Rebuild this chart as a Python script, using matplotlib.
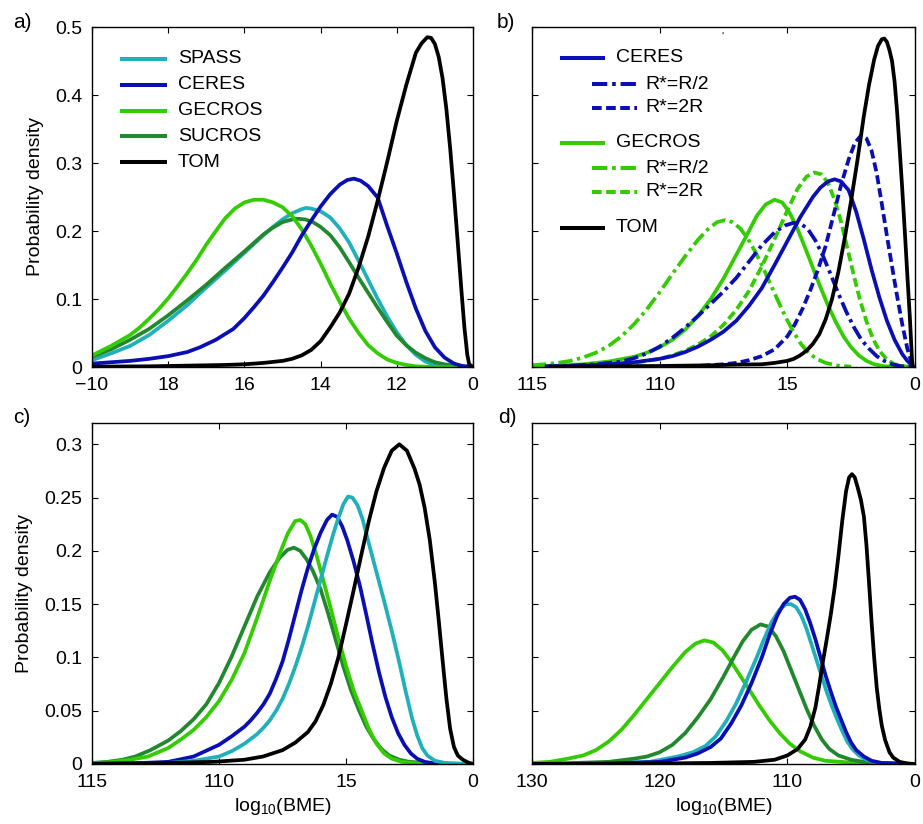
import matplotlib
matplotlib.use("Agg")
import matplotlib.pyplot as plt

plt.rcParams['font.family'] = ['Liberation Sans', 'DejaVu Sans']
plt.rcParams['mathtext.default'] = 'regular'

# ---------------- colours ----------------
C_SPASS = '#1FB0BA'
C_CERES = '#0A0FB4'
C_GECROS = '#33CC00'
C_SUCROS = '#22882E'
C_TOM = '#000000'

# ---------------- panel a (x: -20..0) ----------------
a_xticks = [-20, -16, -12, -8, -4, 0]
a_xticklabels = ['\u221210', '18', '16', '14', '12', '0']
a_yticks = [0, 0.1, 0.2, 0.3, 0.4, 0.5]
a_yticklabels = ['0', '0.1', '0.2', '0.3', '0.4', '0.5']

tom_a_x = [-20, -17, -15, -13, -12, -11, -10, -9.5, -9, -8.5, -8, -7.5, -7, -6.5, -6, -5.5, -5, -4.5, -4, -3.5, -3, -2.7, -2.4, -2.2, -2.0, -1.8, -1.6, -1.4, -1.2, -1.0, -0.8, -0.6, -0.45, -0.3, -0.2, 0]
tom_a_y = [0.0005, 0.001, 0.002, 0.003, 0.004, 0.006, 0.009, 0.012, 0.017, 0.025, 0.038, 0.058, 0.080, 0.108, 0.147, 0.192, 0.245, 0.302, 0.362, 0.415, 0.462, 0.476, 0.485, 0.484, 0.475, 0.456, 0.425, 0.380, 0.322, 0.255, 0.183, 0.110, 0.058, 0.018, 0.004, 0]
ceres_a_x = [-20, -19, -18, -17, -16, -15, -14.33, -13.5, -12.58, -12, -11.5, -11, -10.5, -10, -9.5, -9, -8.5, -8, -7.5, -7, -6.6, -6.25, -5.9, -5.5, -5, -4.5, -4, -3.5, -3, -2.5, -2, -1.5, -1, -0.5, 0]
ceres_a_y = [0.005, 0.007, 0.009, 0.012, 0.016, 0.022, 0.029, 0.040, 0.056, 0.072, 0.088, 0.105, 0.125, 0.146, 0.168, 0.193, 0.215, 0.236, 0.254, 0.268, 0.275, 0.277, 0.274, 0.266, 0.249, 0.207, 0.167, 0.125, 0.086, 0.053, 0.029, 0.014, 0.005, 0.001, 0]
gecros_a_x = [-20, -19.5, -19, -18.5, -18, -17.5, -17, -16.5, -16, -15.5, -15, -14.5, -14, -13.5, -13, -12.5, -12, -11.5, -11, -10.5, -10, -9.5, -9, -8.5, -8, -7.5, -7, -6.5, -6, -5.5, -5, -4.5, -4, -3.5, -3, -2, 0]
gecros_a_y = [0.017, 0.024, 0.031, 0.039, 0.047, 0.058, 0.071, 0.085, 0.101, 0.119, 0.138, 0.158, 0.180, 0.200, 0.219, 0.233, 0.242, 0.246, 0.246, 0.242, 0.235, 0.222, 0.203, 0.179, 0.152, 0.123, 0.096, 0.071, 0.050, 0.032, 0.020, 0.011, 0.006, 0.003, 0.001, 0.0, 0]
spass_a_x = [-20, -19, -18, -17, -16, -15, -14, -13, -12, -11, -10.5, -10, -9.5, -9, -8.77, -8.5, -8, -7.5, -7, -6.5, -6, -5.5, -5, -4.5, -4, -3.5, -3, -2.5, -2, -1.5, 0]
spass_a_y = [0.010, 0.020, 0.031, 0.047, 0.068, 0.091, 0.117, 0.142, 0.168, 0.194, 0.206, 0.217, 0.226, 0.232, 0.234, 0.233, 0.229, 0.220, 0.204, 0.183, 0.156, 0.128, 0.100, 0.074, 0.051, 0.032, 0.018, 0.008, 0.003, 0.001, 0]
sucros_a_x = [-20, -19, -18, -17, -16, -15, -14, -13, -12, -11, -10.5, -10, -9.5, -9.2, -8.8, -8.4, -8, -7.5, -7, -6.5, -6, -5.5, -5, -4.5, -4, -3.5, -3, -2.5, -2, -1.5, -1, 0]
sucros_a_y = [0.015, 0.026, 0.040, 0.056, 0.076, 0.098, 0.121, 0.146, 0.170, 0.195, 0.205, 0.213, 0.217, 0.218, 0.217, 0.213, 0.206, 0.194, 0.176, 0.154, 0.131, 0.109, 0.087, 0.066, 0.046, 0.032, 0.021, 0.013, 0.007, 0.004, 0.002, 0.0005]

# ---------------- panel b (x: -15..0) ----------------
b_xticks = [-15, -10, -5, 0]
b_xticklabels = ['115', '110', '15', '0']

tom_b_x = [-14.35, -12, -10, -8, -7, -6, -5.5, -5, -4.75, -4.5, -4.25, -4.0, -3.75, -3.5, -3.25, -3.0, -2.75, -2.5, -2.25, -2.0, -1.8, -1.6, -1.45, -1.3, -1.2, -1.1, -1.0, -0.9, -0.8, -0.7, -0.6, -0.5, -0.4, -0.3, -0.2, -0.13, -0.1]
tom_b_y = [0.0005, 0.001, 0.0015, 0.0025, 0.0035, 0.004, 0.006, 0.009, 0.012, 0.017, 0.024, 0.034, 0.048, 0.070, 0.100, 0.140, 0.190, 0.245, 0.305, 0.370, 0.415, 0.452, 0.472, 0.482, 0.483, 0.478, 0.466, 0.450, 0.420, 0.375, 0.320, 0.262, 0.200, 0.135, 0.072, 0.020, 0.0]
ceres_b_x = [-14, -13, -12, -11, -10, -9.5, -9, -8.5, -8, -7.5, -7, -6.5, -6, -5.5, -5, -4.5, -4, -3.7, -3.4, -3.15, -2.9, -2.6, -2.3, -2.0, -1.7, -1.4, -1.1, -0.8, -0.5, -0.3, -0.1, 0]
ceres_b_y = [0.001, 0.002, 0.004, 0.007, 0.012, 0.016, 0.022, 0.030, 0.040, 0.052, 0.068, 0.090, 0.116, 0.150, 0.185, 0.220, 0.250, 0.264, 0.273, 0.276, 0.273, 0.260, 0.228, 0.187, 0.143, 0.103, 0.068, 0.040, 0.019, 0.009, 0.002, 0]
ceres_half_b_x = [-14.5, -13.5, -12.5, -11.5, -11, -10.5, -10, -9.5, -9, -8.5, -8, -7.5, -7, -6.5, -6, -5.5, -5.1, -4.76, -4.45, -4.2, -3.9, -3.6, -3.3, -3.0, -2.7, -2.4, -2.1, -1.8, -1.5, -1.2, -0.9, -0.5, 0]
ceres_half_b_y = [0.001, 0.002, 0.004, 0.008, 0.013, 0.020, 0.030, 0.043, 0.058, 0.075, 0.093, 0.111, 0.131, 0.155, 0.179, 0.198, 0.208, 0.212, 0.210, 0.203, 0.186, 0.163, 0.136, 0.108, 0.082, 0.059, 0.040, 0.027, 0.016, 0.009, 0.004, 0.001, 0]
ceres_double_b_x = [-13.5, -10, -8.5, -7.5, -7, -6.5, -6, -5.5, -5, -4.7, -4.4, -4.1, -3.8, -3.5, -3.2, -2.9, -2.6, -2.35, -2.1, -1.9, -1.7, -1.5, -1.3, -1.1, -0.9, -0.7, -0.5, -0.3, -0.15, 0]
ceres_double_b_y = [0.0, 0.0005, 0.0015, 0.004, 0.006, 0.010, 0.016, 0.026, 0.045, 0.063, 0.086, 0.113, 0.143, 0.178, 0.222, 0.267, 0.305, 0.330, 0.341, 0.336, 0.318, 0.285, 0.240, 0.193, 0.148, 0.104, 0.063, 0.027, 0.008, 0]
gecros_b_x = [-15, -14, -13, -12, -11, -10.5, -10, -9.5, -9, -8.5, -8, -7.5, -7, -6.6, -6.2, -5.85, -5.5, -5.2, -4.9, -4.6, -4.3, -4.0, -3.7, -3.4, -3.1, -2.8, -2.5, -2.2, -1.9, -1.6, -1.2, -0.5]
gecros_b_y = [0.001, 0.002, 0.004, 0.008, 0.015, 0.021, 0.029, 0.040, 0.055, 0.075, 0.100, 0.130, 0.165, 0.193, 0.222, 0.239, 0.246, 0.242, 0.226, 0.203, 0.175, 0.146, 0.117, 0.090, 0.066, 0.045, 0.029, 0.017, 0.009, 0.004, 0.001, 0.0]
gecros_half_b_x = [-15, -14.5, -14, -13.5, -13, -12.5, -12, -11.5, -11, -10.5, -10, -9.5, -9, -8.5, -8.1, -7.75, -7.44, -7.15, -6.85, -6.55, -6.25, -5.95, -5.65, -5.35, -5.05, -4.75, -4.45, -4.15, -3.85, -3.5, -3.0, -2.5]
gecros_half_b_y = [0.0025, 0.004, 0.006, 0.009, 0.014, 0.021, 0.031, 0.045, 0.063, 0.085, 0.110, 0.137, 0.163, 0.187, 0.203, 0.213, 0.216, 0.213, 0.204, 0.189, 0.169, 0.146, 0.121, 0.096, 0.072, 0.051, 0.033, 0.020, 0.012, 0.006, 0.002, 0.0005]
gecros_double_b_x = [-14, -13, -12, -11, -10, -9.5, -9, -8.5, -8, -7.5, -7, -6.5, -6, -5.5, -5.0, -4.6, -4.25, -3.94, -3.65, -3.4, -3.15, -2.9, -2.65, -2.4, -2.15, -1.9, -1.65, -1.4, -1.1, -0.8, -0.4, 0]
gecros_double_b_y = [0.001, 0.002, 0.003, 0.006, 0.012, 0.017, 0.024, 0.033, 0.045, 0.062, 0.084, 0.112, 0.148, 0.188, 0.230, 0.262, 0.280, 0.286, 0.283, 0.270, 0.246, 0.214, 0.175, 0.135, 0.098, 0.067, 0.042, 0.024, 0.011, 0.004, 0.001, 0]

# ---------------- panel c (x: -15..0) ----------------
c_xticks = [-15, -10, -5, 0]
c_xticklabels = ['115', '110', '15', '0']
c_yticks = [0, 0.05, 0.1, 0.15, 0.2, 0.25, 0.3]
c_yticklabels = ['0', '0.05', '0.1', '0.15', '0.2', '0.25', '0.3']

tom_c_x = [-15, -12, -10.24, -9, -8.27, -7.5, -7, -6.5, -6.2, -5.9, -5.6, -5.3, -5.0, -4.7, -4.4, -4.1, -3.8, -3.5, -3.2, -2.9, -2.6, -2.3, -2.1, -1.9, -1.7, -1.5, -1.35, -1.2, -1.05, -0.9, -0.75, -0.6, -0.4, -0.2, 0]
tom_c_y = [0.0002, 0.001, 0.002, 0.004, 0.007, 0.013, 0.020, 0.030, 0.040, 0.055, 0.075, 0.100, 0.131, 0.163, 0.196, 0.228, 0.256, 0.278, 0.294, 0.300, 0.294, 0.277, 0.262, 0.240, 0.210, 0.170, 0.135, 0.098, 0.062, 0.033, 0.016, 0.008, 0.004, 0.0015, 0.0]
spass_c_x = [-15, -12, -11, -10, -9.5, -9, -8.5, -8.25, -8.0, -7.75, -7.5, -7.25, -7.0, -6.75, -6.5, -6.25, -6.0, -5.75, -5.5, -5.3, -5.1, -4.92, -4.75, -4.55, -4.35, -4.1, -3.8, -3.5, -3.2, -2.9, -2.65, -2.4, -2.2, -2.0, -1.8, -1.5, -1.0, 0]
spass_c_y = [0.0, 0.001, 0.003, 0.007, 0.012, 0.019, 0.028, 0.034, 0.041, 0.050, 0.061, 0.075, 0.091, 0.109, 0.129, 0.151, 0.173, 0.195, 0.216, 0.231, 0.244, 0.251, 0.250, 0.243, 0.230, 0.207, 0.180, 0.153, 0.125, 0.095, 0.068, 0.043, 0.027, 0.015, 0.008, 0.003, 0.0005, 0]
ceres_c_x = [-15, -13, -12, -11, -10, -9.5, -9, -8.75, -8.5, -8.25, -8.0, -7.75, -7.5, -7.25, -7.0, -6.75, -6.5, -6.25, -6.0, -5.75, -5.55, -5.35, -5.15, -4.95, -4.7, -4.45, -4.2, -3.95, -3.7, -3.45, -3.2, -2.95, -2.7, -2.45, -2.2, -1.9, -1.5, 0]
ceres_c_y = [0.0, 0.001, 0.002, 0.007, 0.018, 0.026, 0.035, 0.041, 0.048, 0.056, 0.066, 0.080, 0.096, 0.117, 0.140, 0.163, 0.184, 0.202, 0.217, 0.229, 0.234, 0.232, 0.223, 0.210, 0.190, 0.167, 0.140, 0.112, 0.086, 0.063, 0.044, 0.029, 0.018, 0.010, 0.005, 0.002, 0.0005, 0]
gecros_c_x = [-15, -14.2, -13.5, -12.8, -12, -11.5, -11, -10.5, -10, -9.5, -9, -8.5, -8.0, -7.6, -7.3, -7.0, -6.8, -6.6, -6.4, -6.15, -5.9, -5.6, -5.3, -5.0, -4.7, -4.4, -4.1, -3.8, -3.5, -3.2, -2.8, -2.2, 0]
gecros_c_y = [0.0005, 0.002, 0.004, 0.007, 0.015, 0.023, 0.032, 0.044, 0.059, 0.079, 0.104, 0.137, 0.172, 0.198, 0.216, 0.228, 0.229, 0.225, 0.214, 0.195, 0.173, 0.146, 0.118, 0.092, 0.069, 0.051, 0.033, 0.019, 0.010, 0.005, 0.002, 0.0005, 0]
sucros_c_x = [-15, -14.4, -13.8, -13.3, -12.7, -12.0, -11.5, -11.0, -10.5, -10.0, -9.5, -9.0, -8.5, -8.0, -7.6, -7.3, -7.05, -6.8, -6.55, -6.3, -6.0, -5.7, -5.4, -5.1, -4.8, -4.5, -4.2, -3.9, -3.6, -3.3, -2.9, -2.5, -1.5, 0]
sucros_c_y = [0.001, 0.002, 0.004, 0.007, 0.013, 0.022, 0.031, 0.042, 0.056, 0.076, 0.101, 0.129, 0.157, 0.180, 0.194, 0.201, 0.203, 0.200, 0.192, 0.181, 0.164, 0.141, 0.116, 0.091, 0.069, 0.051, 0.035, 0.023, 0.014, 0.008, 0.004, 0.002, 0.0005, 0]

# ---------------- panel d (x: -15..0) ----------------
d_xticks = [-15, -10, -5, 0]
d_xticklabels = ['130', '120', '110', '0']

tom_d_x = [-15, -10, -8, -6.3, -5.5, -5.0, -4.6, -4.3, -4.1, -3.9, -3.75, -3.6, -3.45, -3.3, -3.15, -3.0, -2.85, -2.7, -2.58, -2.47, -2.36, -2.25, -2.12, -2.0, -1.9, -1.8, -1.7, -1.6, -1.5, -1.4, -1.3, -1.17, -1.0, -0.85, -0.6, -0.3, 0]
tom_d_y = [0.0, 0.0005, 0.001, 0.002, 0.004, 0.008, 0.014, 0.023, 0.035, 0.053, 0.074, 0.097, 0.118, 0.140, 0.165, 0.195, 0.228, 0.256, 0.269, 0.272, 0.269, 0.260, 0.248, 0.232, 0.205, 0.170, 0.133, 0.100, 0.072, 0.052, 0.036, 0.0225, 0.011, 0.006, 0.002, 0.0005, 0]
ceres_d_x = [-15, -12, -10, -9, -8.5, -8, -7.6, -7.2, -6.8, -6.4, -6.0, -5.7, -5.4, -5.15, -4.9, -4.7, -4.5, -4.3, -4.1, -3.9, -3.7, -3.5, -3.3, -3.1, -2.9, -2.7, -2.5, -2.3, -2.0, -1.7, -1.3, 0]
ceres_d_y = [0.0, 0.0005, 0.002, 0.006, 0.010, 0.016, 0.024, 0.038, 0.055, 0.076, 0.100, 0.121, 0.139, 0.150, 0.156, 0.157, 0.154, 0.145, 0.132, 0.117, 0.100, 0.083, 0.068, 0.054, 0.042, 0.030, 0.020, 0.013, 0.007, 0.003, 0.001, 0]
spass_d_x = [-15, -12, -10.4, -9.3, -8.7, -8.2, -7.8, -7.4, -7.0, -6.6, -6.2, -5.9, -5.6, -5.3, -5.05, -4.85, -4.65, -4.45, -4.25, -4.05, -3.85, -3.65, -3.45, -3.25, -3.05, -2.85, -2.65, -2.45, -2.2, -1.9, -1.5, 0]
spass_d_y = [0.0, 0.0005, 0.002, 0.007, 0.011, 0.017, 0.026, 0.040, 0.057, 0.078, 0.100, 0.118, 0.134, 0.145, 0.150, 0.150, 0.147, 0.139, 0.127, 0.112, 0.097, 0.082, 0.067, 0.054, 0.042, 0.031, 0.021, 0.014, 0.008, 0.004, 0.001, 0]
sucros_d_x = [-15, -14, -12, -11, -10.5, -10, -9.5, -9.0, -8.5, -8.0, -7.5, -7.1, -6.75, -6.4, -6.05, -5.75, -5.45, -5.15, -4.85, -4.55, -4.25, -3.95, -3.65, -3.35, -3.0, -2.5, -2.0, -1.0, 0]
sucros_d_y = [0.0, 0.0005, 0.002, 0.005, 0.007, 0.011, 0.018, 0.029, 0.044, 0.061, 0.082, 0.100, 0.115, 0.126, 0.131, 0.129, 0.120, 0.106, 0.088, 0.070, 0.052, 0.036, 0.023, 0.014, 0.008, 0.004, 0.002, 0.0005, 0]
gecros_d_x = [-15, -14.3, -13.6, -13.0, -12.5, -12.0, -11.5, -11.0, -10.5, -10.0, -9.5, -9.0, -8.6, -8.25, -7.9, -7.55, -7.2, -6.85, -6.5, -6.1, -5.7, -5.3, -4.9, -4.5, -4.0, -3.5, -2.9, -2.0, 0]
gecros_d_y = [0.001, 0.002, 0.005, 0.008, 0.013, 0.021, 0.032, 0.046, 0.061, 0.076, 0.091, 0.105, 0.113, 0.116, 0.114, 0.107, 0.096, 0.083, 0.070, 0.055, 0.041, 0.029, 0.019, 0.012, 0.006, 0.003, 0.002, 0.0005, 0]

LW = 2.7
DASH = (2.4, 1.1)
DASHDOT = (3.8, 1.2, 0.9, 1.2)

W, H = 923, 824
fig = plt.figure(figsize=(W / 100, H / 100), dpi=100)


def make_ax(left, top, right, bottom):
    return fig.add_axes([left / W, 1 - bottom / H, (right - left) / W, (bottom - top) / H])


axa = make_ax(92, 27, 473, 367)
axb = make_ax(532, 27, 915, 367)
axc = make_ax(92, 423, 473, 764)
axd = make_ax(532, 423, 915, 764)


def style(ax, xlim, xticks, xlabels, ylim, yticks, ylabels):
    ax.set_xlim(*xlim)
    ax.set_ylim(*ylim)
    ax.set_xticks(xticks)
    ax.set_xticklabels(xlabels)
    ax.set_yticks(yticks)
    ax.set_yticklabels(ylabels)
    ax.tick_params(direction='in', top=True, right=True, length=4, width=0.8,
                   labelsize=14, pad=7)
    for s in ax.spines.values():
        s.set_linewidth(1.0)


def curve(ax, x, y, color, dashes=None):
    ln, = ax.plot(x, y, color=color, lw=LW, solid_joinstyle='round',
                  solid_capstyle='butt', clip_on=True)
    if dashes is not None:
        ln.set_dashes(dashes)
        ln.set_dash_capstyle('butt')
    return ln


def leg(ax, x0, x1, y, tx, label, color, dashes=None):
    ln, = ax.plot([x0, x1], [y, y], transform=ax.transAxes, color=color, lw=LW + 0.2,
                  solid_capstyle='butt', clip_on=False)
    if dashes is not None:
        ln.set_dashes(dashes)
        ln.set_dash_capstyle('butt')
    ax.text(tx, y, label, transform=ax.transAxes, va='center', ha='left', fontsize=14)


# ---- panel a ----
curve(axa, spass_a_x, spass_a_y, C_SPASS)
curve(axa, sucros_a_x, sucros_a_y, C_SUCROS)
curve(axa, gecros_a_x, gecros_a_y, C_GECROS)
curve(axa, ceres_a_x, ceres_a_y, C_CERES)
curve(axa, tom_a_x, tom_a_y, C_TOM)
style(axa, (-20, 0), a_xticks, a_xticklabels, (0, 0.5), a_yticks, a_yticklabels)
axa.set_ylabel('Probability density', fontsize=14, labelpad=8)
for lab, col, yy in [('SPASS', C_SPASS, 0.906), ('CERES', C_CERES, 0.830),
                     ('GECROS', C_GECROS, 0.754), ('SUCROS', C_SUCROS, 0.678),
                     ('TOM', C_TOM, 0.602)]:
    leg(axa, 0.074, 0.197, yy, 0.225, lab, col)

# ---- panel b ----
curve(axb, gecros_half_b_x, gecros_half_b_y, C_GECROS, DASHDOT)
curve(axb, gecros_double_b_x, gecros_double_b_y, C_GECROS, DASH)
curve(axb, gecros_b_x, gecros_b_y, C_GECROS)
curve(axb, ceres_half_b_x, ceres_half_b_y, C_CERES, DASHDOT)
curve(axb, ceres_double_b_x, ceres_double_b_y, C_CERES, DASH)
curve(axb, ceres_b_x, ceres_b_y, C_CERES)
curve(axb, tom_b_x, tom_b_y, C_TOM)
style(axb, (-15, 0), b_xticks, b_xticklabels, (0, 0.5), a_yticks, ['' for _ in a_yticks])
leg(axb, 0.073, 0.191, 0.909, 0.219, 'CERES', C_CERES)
leg(axb, 0.157, 0.274, 0.832, 0.295, 'R*=R/2', C_CERES, DASHDOT)
leg(axb, 0.157, 0.274, 0.762, 0.295, 'R*=2R', C_CERES, DASH)
leg(axb, 0.073, 0.191, 0.659, 0.219, 'GECROS', C_GECROS)
leg(axb, 0.157, 0.274, 0.585, 0.295, 'R*=R/2', C_GECROS, DASHDOT)
leg(axb, 0.157, 0.274, 0.515, 0.295, 'R*=2R', C_GECROS, DASH)
leg(axb, 0.073, 0.191, 0.409, 0.219, 'TOM', C_TOM)
# small stray mark near the top of panel b in the original
axb.text(0.497, 0.97, "'", transform=axb.transAxes, fontsize=8, ha='center', va='center')

# ---- panel c ----
curve(axc, sucros_c_x, sucros_c_y, C_SUCROS)
curve(axc, gecros_c_x, gecros_c_y, C_GECROS)
curve(axc, ceres_c_x, ceres_c_y, C_CERES)
curve(axc, spass_c_x, spass_c_y, C_SPASS)
curve(axc, tom_c_x, tom_c_y, C_TOM)
style(axc, (-15, 0), c_xticks, c_xticklabels, (0, 0.32), c_yticks, c_yticklabels)
axc.set_ylabel('Probability density', fontsize=14, labelpad=8)
axc.set_xlabel('log$_{10}$(BME)', fontsize=14, labelpad=4)

# ---- panel d ----
curve(axd, gecros_d_x, gecros_d_y, C_GECROS)
curve(axd, sucros_d_x, sucros_d_y, C_SUCROS)
curve(axd, spass_d_x, spass_d_y, C_SPASS)
curve(axd, ceres_d_x, ceres_d_y, C_CERES)
curve(axd, tom_d_x, tom_d_y, C_TOM)
style(axd, (-15, 0), d_xticks, d_xticklabels, (0, 0.32), c_yticks, ['' for _ in c_yticks])
axd.set_xlabel('log$_{10}$(BME)', fontsize=14, labelpad=4)

# panel letters
fig.text(13 / W, 1 - 22 / H, 'a)', fontsize=15, va='center', ha='left')
fig.text(497 / W, 1 - 22 / H, 'b)', fontsize=15, va='center', ha='left')
fig.text(13 / W, 1 - 417 / H, 'c)', fontsize=15, va='center', ha='left')
fig.text(498 / W, 1 - 417 / H, 'd)', fontsize=15, va='center', ha='left')

fig.savefig('out.png', dpi=100)
